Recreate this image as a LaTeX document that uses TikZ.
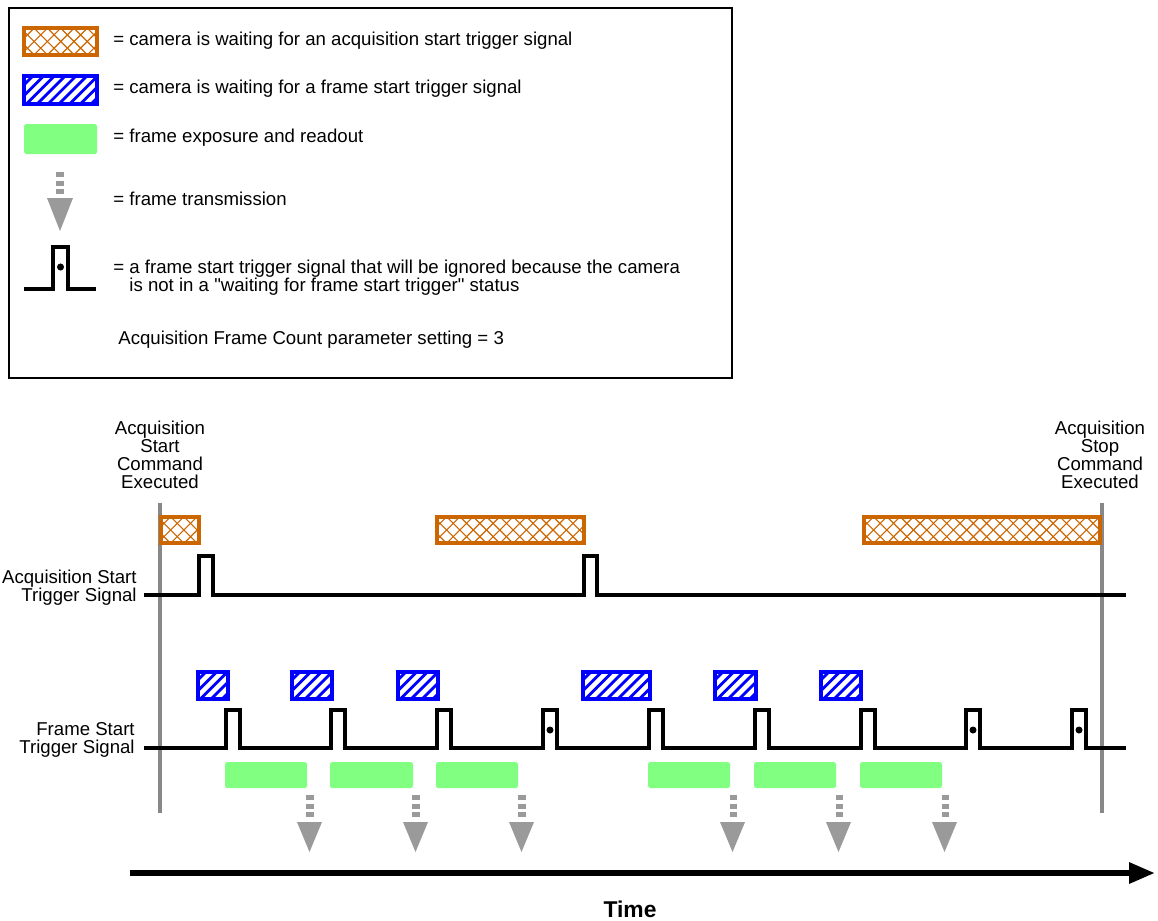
\documentclass[tikz,border=0pt]{standalone}
\usepackage{fontspec}
\setmainfont{Liberation Sans}
\usepackage{tikz}
\usetikzlibrary{arrows.meta}

\definecolor{waitorange}{HTML}{CC6600}
\definecolor{waitblue}{HTML}{0000FF}
\definecolor{expgreen}{HTML}{80FF80}
\definecolor{cmdgray}{HTML}{888888}
\definecolor{txgray}{HTML}{9A9A9A}

% crosshatched box: x1, y1, x2, y2
\newcommand{\acqwaitbox}[4]{%
	\begin{scope}
		\clip (#1,#2) rectangle (#3,#4);
		\foreach \k in {-30,-16.7,...,250} {
			\draw[acqhatch] (#1+\k,#2) -- ++(30,30);
			\draw[acqhatch] (#1+\k,#4) -- ++(30,-30);
		}
	\end{scope}
	\draw[acqborder] (#1,#2) rectangle (#3,#4);
}

% striped box: x1, y1, x2, y2
\newcommand{\framewaitbox}[4]{%
	\begin{scope}
		\clip (#1,#2) rectangle (#3,#4);
		\foreach \k in {-30,-19.2,...,120} {
			\draw[framehatch] (#1+\k,#4) -- ++(30,-30);
		}
	\end{scope}
	\draw[frameborder] (#1,#2) rectangle (#3,#4);
}

\begin{document}
\begin{tikzpicture}[
			x=0.02cm, y=-0.02cm,
			txt/.style={
				font=\fontsize{10.6}{10.3}\selectfont,
				inner sep=0pt
			},
			acqhatch/.style={
				draw=waitorange,
				line width=0.65pt
			},
			acqborder/.style={
				draw=waitorange,
				line width=1.9pt
			},
			framehatch/.style={
				draw=waitblue,
				line width=1.6pt
			},
			frameborder/.style={
				draw=waitblue,
				line width=1.8pt
			},
			exposure/.style={
				fill=expgreen,
				rounded corners=1pt
			},
			signal/.style={
				line width=1.9pt,
				line join=miter
			},
			cmdline/.style={
				draw=cmdgray,
				line width=2.4pt
			},
			txstem/.style={
				draw=txgray,
				line width=4pt,
				dash pattern=on 2.8pt off 2.1pt
			},
			txhead/.style={
				fill=txgray
			},
			arrow/.style={
				-{Triangle[length=14.7pt, width=11.3pt]},
				line width=3.4pt
			}
			]
			
			\useasboundingbox (0,0) rectangle (1158,920);
			
			% Legend frame
			\draw[line width=1pt] (9,8) rectangle (732,378);
			
			% Legend 1: waiting for acquisition start trigger
			\acqwaitbox{24}{28}{97}{55}
			\node[txt, anchor=west] (legacq) at (113,41) {= camera is waiting for an acquisition start trigger signal};
			
			% Legend 2: waiting for frame start trigger
			\framewaitbox{24}{76}{97}{104}
			\node[txt, anchor=west] (legframe) at (113,89) {= camera is waiting for a frame start trigger signal};
			
			% Legend 3: exposure and readout
			\fill[exposure] (24,124) rectangle (97,154);
			\node[txt, anchor=west] (legexp) at (113,138) {= frame exposure and readout};
			
			% Legend 4: transmission
			\draw[txstem] (60,172) -- (60,196);
			\fill[txhead] (47,198) -- (73,198) -- (60,231) -- cycle;
			\node[txt, anchor=west] (legtx) at (113,199) {= frame transmission};
			
			% Legend 5: ignored trigger
			\draw[signal] (24,289) -- (53,289) -- (53,247) -- (68,247) -- (68,289) -- (96,289);
			\fill (60.5,267) circle (2pt);
			\node[txt, anchor=west, align=left] (legign) at (113,278) {= a frame start trigger signal that will be ignored because the camera\\\hphantom{= }is not in a \textquotedbl waiting for frame start trigger\textquotedbl\ status};
			
			\node[txt, anchor=west] (legcount) at (118,340) {Acquisition Frame Count parameter setting = 3};
			
			% Start and stop commands
			\node[txt, align=center] (startcmd) at (160,455) {Acquisition\\Start\\Command\\Executed};
			\node[txt, align=center] (stopcmd) at (1100,455) {Acquisition\\Stop\\Command\\Executed};
			\draw[cmdline] (160,503) -- (160,813);
			\draw[cmdline] (1102,503) -- (1102,813);
			
			% Acquisition start trigger
			\acqwaitbox{161}{517}{199}{543}
			\acqwaitbox{437}{517}{584}{543}
			\acqwaitbox{864}{517}{1100}{543}
			\node[txt, anchor=east, align=right] (acqsig) at (137,588) {Acquisition Start\\Trigger Signal};
			\draw[signal] (144,595) -- (199,595) -- (199,556) -- (213,556) -- (213,595)
				-- (584,595) -- (584,556) -- (597,556) -- (597,595) -- (1126,595);
			
			% Frame start trigger
			\framewaitbox{198}{672}{228}{699}
			\framewaitbox{292}{672}{332}{699}
			\framewaitbox{398}{672}{438}{699}
			\framewaitbox{583}{672}{650}{699}
			\framewaitbox{715}{672}{756}{699}
			\framewaitbox{821}{672}{861}{699}
			\node[txt, anchor=east, align=right] (framesig) at (135,740) {Frame Start\\Trigger Signal};
			\draw[signal] (144,748) -- (226,748) -- (226,710) -- (240,710) -- (240,748)
				-- (331,748) -- (331,710) -- (345,710) -- (345,748)
				-- (437,748) -- (437,710) -- (451,710) -- (451,748)
				-- (543,748) -- (543,710) -- (557,710) -- (557,748)
				-- (649,748) -- (649,710) -- (663,710) -- (663,748)
				-- (755,748) -- (755,710) -- (769,710) -- (769,748)
				-- (861,748) -- (861,710) -- (875,710) -- (875,748)
				-- (966,748) -- (966,710) -- (980,710) -- (980,748)
				-- (1072,748) -- (1072,710) -- (1086,710) -- (1086,748) -- (1126,748);
			\fill (550,730) circle (2pt);
			\fill (973,730) circle (2pt);
			\fill (1079,730) circle (2pt);
			
			% Exposure and readout
			\fill[exposure] (225,762) rectangle (307,788);
			\fill[exposure] (330,762) rectangle (413,788);
			\fill[exposure] (436,762) rectangle (518,788);
			\fill[exposure] (648,762) rectangle (730,788);
			\fill[exposure] (754,762) rectangle (836,788);
			\fill[exposure] (860,762) rectangle (942,788);
			
			% Transmission
			\draw[txstem] (310,795) -- (310,819);
			\fill[txhead] (297,822) -- (322,822) -- (309.5,852) -- cycle;
			\draw[txstem] (416,795) -- (416,819);
			\fill[txhead] (403,822) -- (428,822) -- (415.5,852) -- cycle;
			\draw[txstem] (522,795) -- (522,819);
			\fill[txhead] (509,822) -- (534,822) -- (521.5,852) -- cycle;
			\draw[txstem] (733,795) -- (733,819);
			\fill[txhead] (720,822) -- (745,822) -- (732.5,852) -- cycle;
			\draw[txstem] (839,795) -- (839,819);
			\fill[txhead] (826,822) -- (851,822) -- (838.5,852) -- cycle;
			\draw[txstem] (945,795) -- (945,819);
			\fill[txhead] (932,822) -- (957,822) -- (944.5,852) -- cycle;
			
			% Time axis
			\coordinate (tstart) at (130,873);
			\coordinate (tend) at (1155,873);
			\draw[arrow] (tstart) -- (tend);
			\node[font=\fontsize{13}{15}\selectfont\bfseries, inner sep=0pt] (time) at (630,909) {Time};
			
		\end{tikzpicture}
\end{document}
